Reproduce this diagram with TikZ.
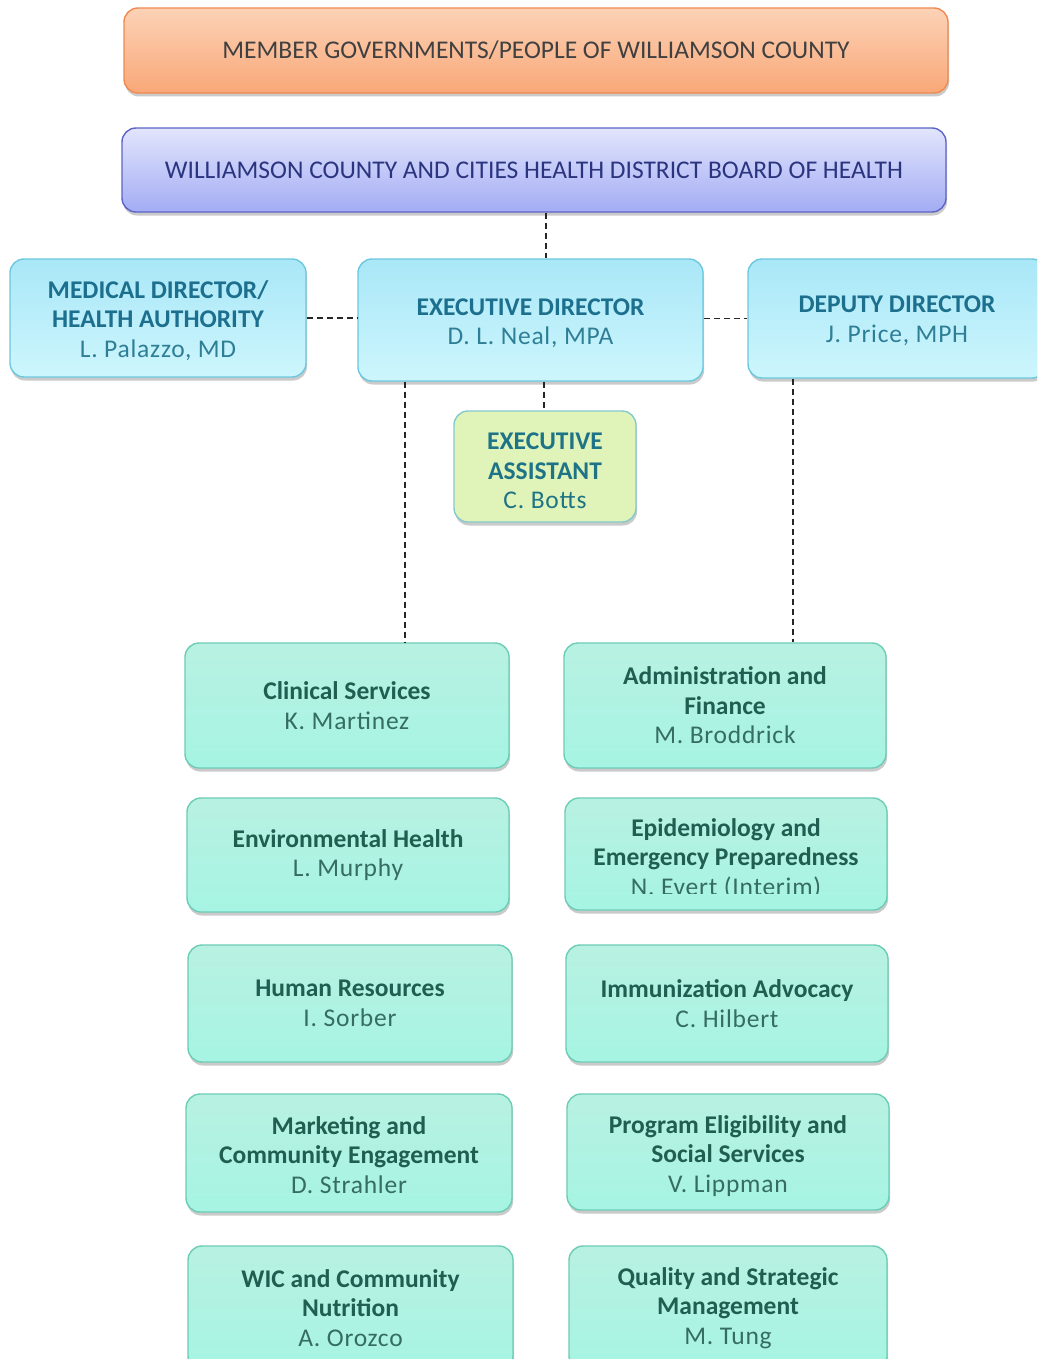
\documentclass[tikz,border=0pt]{standalone}
\usepackage{fontspec}
\setmainfont{Carlito}
\newfontfamily\namefont[LetterSpace=3]{Carlito}
\usetikzlibrary{shadows}
\definecolor{orB}{HTML}{F08A50}
\definecolor{orT}{HTML}{FCD2B6}
\definecolor{orM}{HTML}{F9A878}
\definecolor{lvB}{HTML}{5C64C6}
\definecolor{lvT}{HTML}{E2E5FC}
\definecolor{lvM}{HTML}{A3ACF4}
\definecolor{cyB}{HTML}{6CC8DF}
\definecolor{cyT}{HTML}{A9E7F7}
\definecolor{cyM}{HTML}{CDF6FD}
\definecolor{eaF}{HTML}{E0F4BA}
\definecolor{eaB}{HTML}{84CACC}
\definecolor{mnB}{HTML}{6CCDB6}
\definecolor{mnT}{HTML}{B8F1E2}
\definecolor{mnM}{HTML}{A6F4E3}
\definecolor{topTxt}{HTML}{404040}
\definecolor{brdTxt}{HTML}{2B357F}
\definecolor{dirTxt}{HTML}{1D6F8E}
\definecolor{dirNm}{HTML}{2E7F96}
\definecolor{eaTxt}{HTML}{1E7486}
\definecolor{dpTxt}{HTML}{1F5E50}
\definecolor{dpNm}{HTML}{356D60}
\newcommand\nmx[1]{{\namefont\mdseries #1}}
% lines of text, lowered by #1 pt without changing the box size
\newcommand\lowered[2]{\raisebox{-#1pt}[\height][\depth]{\begin{tabular}{@{}c@{}}#2\end{tabular}}}
\tikzset{
  box/.style={rounded corners=14pt, draw, line width=1.4pt, align=center, inner sep=0pt,
    font=\fontsize{25.5}{29.5}\selectfont,
    drop shadow={opacity=0.35, shadow xshift=1pt, shadow yshift=-3.5pt, fill=black!60}},
  topbox/.style={box, draw=orB, top color=orT, bottom color=orM, text=topTxt},
  brdbox/.style={box, draw=lvB, top color=lvT, bottom color=lvM, text=brdTxt},
  dirbox/.style={box, draw=cyB, top color=cyT, bottom color=cyM, text=dirTxt, font=\fontsize{25.5}{29.5}\selectfont\bfseries},
  eabox/.style={box, draw=eaB, fill=eaF, text=eaTxt, font=\fontsize{25.5}{29.5}\selectfont\bfseries},
  dpbox/.style={box, draw=mnB, top color=mnT, bottom color=mnM, text=dpTxt, font=\fontsize{25.5}{29.5}\selectfont\bfseries},
  conn/.style={draw=black!85, line width=1.5pt, dash pattern=on 6pt off 4pt},
  sz/.style 2 args={minimum width=#1pt, minimum height=#2pt},
}
\begin{document}
\begin{tikzpicture}[x=1pt,y=-1pt]
\useasboundingbox (0,0) rectangle (1037,1359);
\clip (0,0) rectangle (1037,1359);
% top levels
\node[topbox, sz={824}{85}] (top) at (536,50.5) {MEMBER GOVERNMENTS/PEOPLE OF WILLIAMSON COUNTY};
\node[brdbox, sz={824}{84}] (brd) at (534,170) {WILLIAMSON COUNTY AND CITIES HEALTH DISTRICT BOARD OF HEALTH};
% directors
\node[dirbox, sz={296}{118}] (med) at (158,318) {\lowered{4}{MEDICAL DIRECTOR/\\HEALTH AUTHORITY\\{\color{dirNm}\nmx{L. Palazzo, MD}}}};
\node[dirbox, sz={345}{122}] (exec) at (530.5,320) {\lowered{4}{EXECUTIVE DIRECTOR\\{\color{dirNm}\nmx{D. L. Neal, MPA}}}};
\node[dirbox, sz={298}{119}] (dep) at (897,318.5) {\lowered{3}{DEPUTY DIRECTOR\\{\color{dirNm}\nmx{J. Price, MPH}}}};
\node[eabox, sz={182}{111}] (ea) at (545,466.5) {\lowered{7}{EXECUTIVE\\ASSISTANT\\\nmx{C. Botts}}};
% departments left
\node[dpbox, sz={324}{125}] (clin) at (347,705.5) {Clinical Services\\{\color{dpNm}\nmx{K. Martinez}}};
\node[dpbox, sz={322}{114}] (env) at (348,855) {Environmental Health\\{\color{dpNm}\nmx{L. Murphy}}};
\node[dpbox, sz={324}{117}] (hr) at (350,1003.5) {Human Resources\\{\color{dpNm}\nmx{I. Sorber}}};
\node[dpbox, sz={326}{118}] (mkt) at (349,1153) {\lowered{5}{Marketing and\\Community Engagement\\{\color{dpNm}\nmx{D. Strahler}}}};
\node[dpbox, sz={325}{124}] (wic) at (350.5,1308) {WIC and Community\\Nutrition\\{\color{dpNm}\nmx{A. Orozco}}};
% departments right
\node[dpbox, sz={322}{125}] (adm) at (725,705.5) {Administration and\\Finance\\{\color{dpNm}\nmx{M. Broddrick}}};
\node[dpbox, sz={322}{112}] (epi) at (726,854) {};
\begin{scope}
  \clip (epi.north west) rectangle (epi.east |- 0,893);
  \node[text=dpTxt, align=center, inner sep=0pt, font=\fontsize{25.5}{29.5}\selectfont\bfseries] (epit) at (726,858.5) {Epidemiology and\\Emergency Preparedness\\{\color{dpNm}\nmx{N. Evert (Interim)}}};
\end{scope}
\node[dpbox, sz={322}{117}] (imm) at (727,1003.5) {Immunization Advocacy\\{\color{dpNm}\nmx{C. Hilbert}}};
\node[dpbox, sz={322}{116}] (prog) at (728,1152) {\lowered{5}{Program Eligibility and\\Social Services\\{\color{dpNm}\nmx{V. Lippman}}}};
\node[dpbox, sz={318}{124}] (qual) at (728,1308) {Quality and Strategic\\Management\\{\color{dpNm}\nmx{M. Tung}}};
% connectors
\coordinate (xa) at (546,0);
\coordinate (xe) at (544,0);
\coordinate (xl) at (405,0);
\coordinate (xr) at (793,0);
\draw[conn] (brd.south -| xa) -- (exec.north -| xa);
\draw[conn] (med.east) -- (exec.west |- med.east);
\draw[conn] (exec.east |- dep.west) -- (dep.west);
\draw[conn] (exec.south -| xe) -- (ea.north -| xe);
\draw[conn] (exec.south -| xl) -- (clin.north -| xl);
\draw[conn] (dep.south -| xr) -- (adm.north -| xr);
\end{tikzpicture}
\end{document}
